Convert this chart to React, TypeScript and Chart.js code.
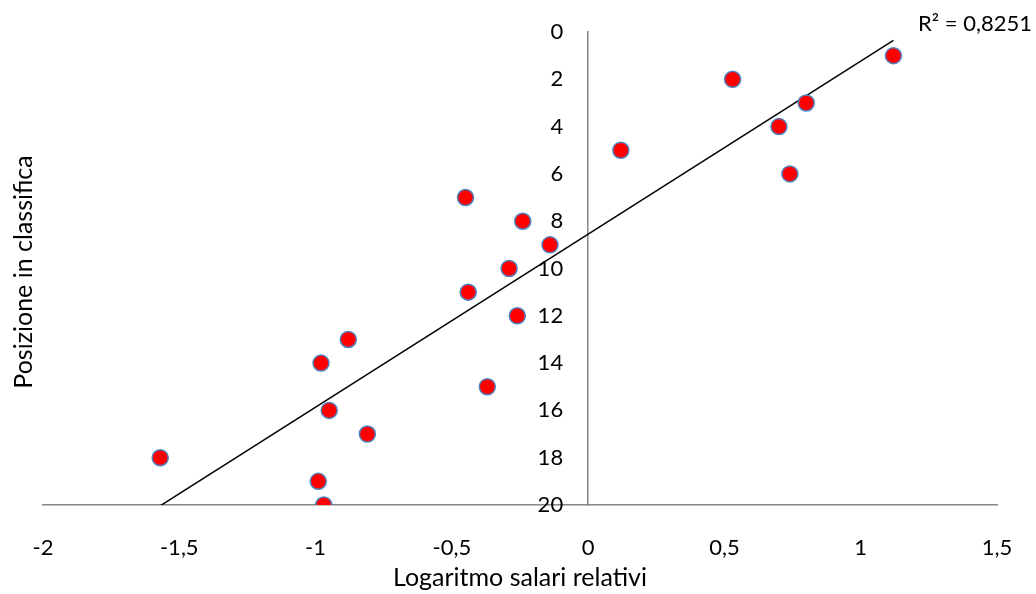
import React, { useEffect, useRef } from "react";
import { Chart, registerables } from "chart.js";

Chart.register(...registerables);

// Logaritmo salari relativi (x) vs Posizione in classifica (y)
const logSalari: number[] = [
  1.12, 0.53, 0.8, 0.7, 0.12, 0.74, -0.45, -0.24, -0.14, -0.29,
  -0.44, -0.26, -0.88, -0.98, -0.37, -0.95, -0.81, -1.57, -0.99, -0.97,
];
const posizione: number[] = [
  1, 2, 3, 4, 5, 6, 7, 8, 9, 10, 11, 12, 13, 14, 15, 16, 17, 18, 19, 20,
];
const xTitle = "Logaritmo salari relativi";
const yTitle = "Posizione in classifica";
const r2Label = "R² = 0,8251";
const yAxisCrossesAt = 0;

const FONT = "Lato, 'Open Sans', sans-serif";

function regression(xs: number[], ys: number[]) {
  const n = xs.length;
  const mx = xs.reduce((a, b) => a + b, 0) / n;
  const my = ys.reduce((a, b) => a + b, 0) / n;
  let sxy = 0;
  let sxx = 0;
  for (let i = 0; i < n; i++) {
    sxy += (xs[i] - mx) * (ys[i] - my);
    sxx += (xs[i] - mx) * (xs[i] - mx);
  }
  const b = sxy / sxx;
  return { a: my - b * mx, b };
}

export default function App() {
  const ref = useRef<HTMLCanvasElement>(null);

  useEffect(() => {
    if (!ref.current) return;
    const { a, b } = regression(logSalari, posizione);
    const minX = Math.min(...logSalari);
    const maxX = Math.max(...logSalari);
    const trend = [
      { x: minX, y: a + b * minX },
      { x: maxX, y: a + b * maxX },
    ];

    // place the y axis so that it crosses the x axis at x = 0
    const crossPlugin = {
      id: "cross",
      afterLayout(chart: any) {
        const xs = chart.scales.x;
        const ys = chart.scales.y;
        const px = xs.getPixelForValue(yAxisCrossesAt);
        ys.left = 0;
        ys.right = px;
        ys.width = px;
      },
    };

    const titlesPlugin = {
      id: "titles",
      afterDraw(chart: any) {
        const ctx = chart.ctx;
        const area = chart.chartArea;
        ctx.save();
        ctx.fillStyle = "#000";
        ctx.font = `25px ${FONT}`;
        ctx.textAlign = "center";
        ctx.textBaseline = "middle";
        ctx.fillText(xTitle, (area.left + area.right) / 2, 578);
        ctx.translate(24, 272);
        ctx.rotate(-Math.PI / 2);
        ctx.fillText(yTitle, 0, 0);
        ctx.restore();
        ctx.save();
        ctx.fillStyle = "#000";
        ctx.font = `22px ${FONT}`;
        ctx.textAlign = "left";
        ctx.textBaseline = "middle";
        ctx.fillText(r2Label, 918, 24);
        ctx.restore();
      },
    };

    const chart = new Chart(ref.current, {
      type: "scatter",
      data: {
        datasets: [
          {
            label: "Posizione",
            data: logSalari.map((x, i) => ({ x, y: posizione[i] })),
            backgroundColor: "#FF0000",
            borderColor: "#4F81BD",
            borderWidth: 1.5,
            pointRadius: 8,
            pointHoverRadius: 8,
            order: 0,
          },
          {
            label: "Trend",
            type: "line",
            data: trend,
            borderColor: "#000",
            borderWidth: 1.5,
            pointRadius: 0,
            fill: false,
            showLine: true,
            order: 1,
          } as any,
        ],
      },
      options: {
        responsive: false,
        animation: false,
        devicePixelRatio: 1,
        layout: { padding: { left: 43, right: 39, top: 32, bottom: 0 } },
        plugins: {
          legend: { display: false },
          tooltip: { enabled: false },
          title: { display: false },
        },
        scales: {
          x: {
            type: "linear",
            position: "bottom",
            min: -2,
            max: 1.5,
            afterFit: (s: any) => {
              s.height = 89;
            },
            grid: {
              display: true,
              drawOnChartArea: false,
              drawTicks: true,
              tickLength: 30,
              tickColor: "rgba(0,0,0,0)",
            },
            border: { display: true, color: "#868686", width: 1.5 },
            ticks: {
              stepSize: 0.5,
              padding: 0,
              color: "#000",
              font: { family: FONT, size: 22 },
              callback: (v: any) => String(v).replace(".", ","),
            },
          },
          y: {
            type: "linear",
            position: "left",
            reverse: true,
            min: 0,
            max: 20,
            afterFit: (s: any) => {
              s.width = 0;
            },
            grid: {
              display: true,
              drawOnChartArea: false,
              drawTicks: true,
              tickLength: 25,
              tickColor: "rgba(0,0,0,0)",
            },
            border: { display: true, color: "#868686", width: 1.5 },
            ticks: {
              stepSize: 2,
              padding: 0,
              color: "#000",
              font: { family: FONT, size: 22 },
            },
          },
        },
      },
      plugins: [crossPlugin, titlesPlugin],
    });
    return () => chart.destroy();
  }, []);

  return (
    <div style={{ position: "fixed", left: 0, top: 0, width: 1036, height: 594 }}>
      <canvas ref={ref} width={1036} height={594} />
    </div>
  );
}
